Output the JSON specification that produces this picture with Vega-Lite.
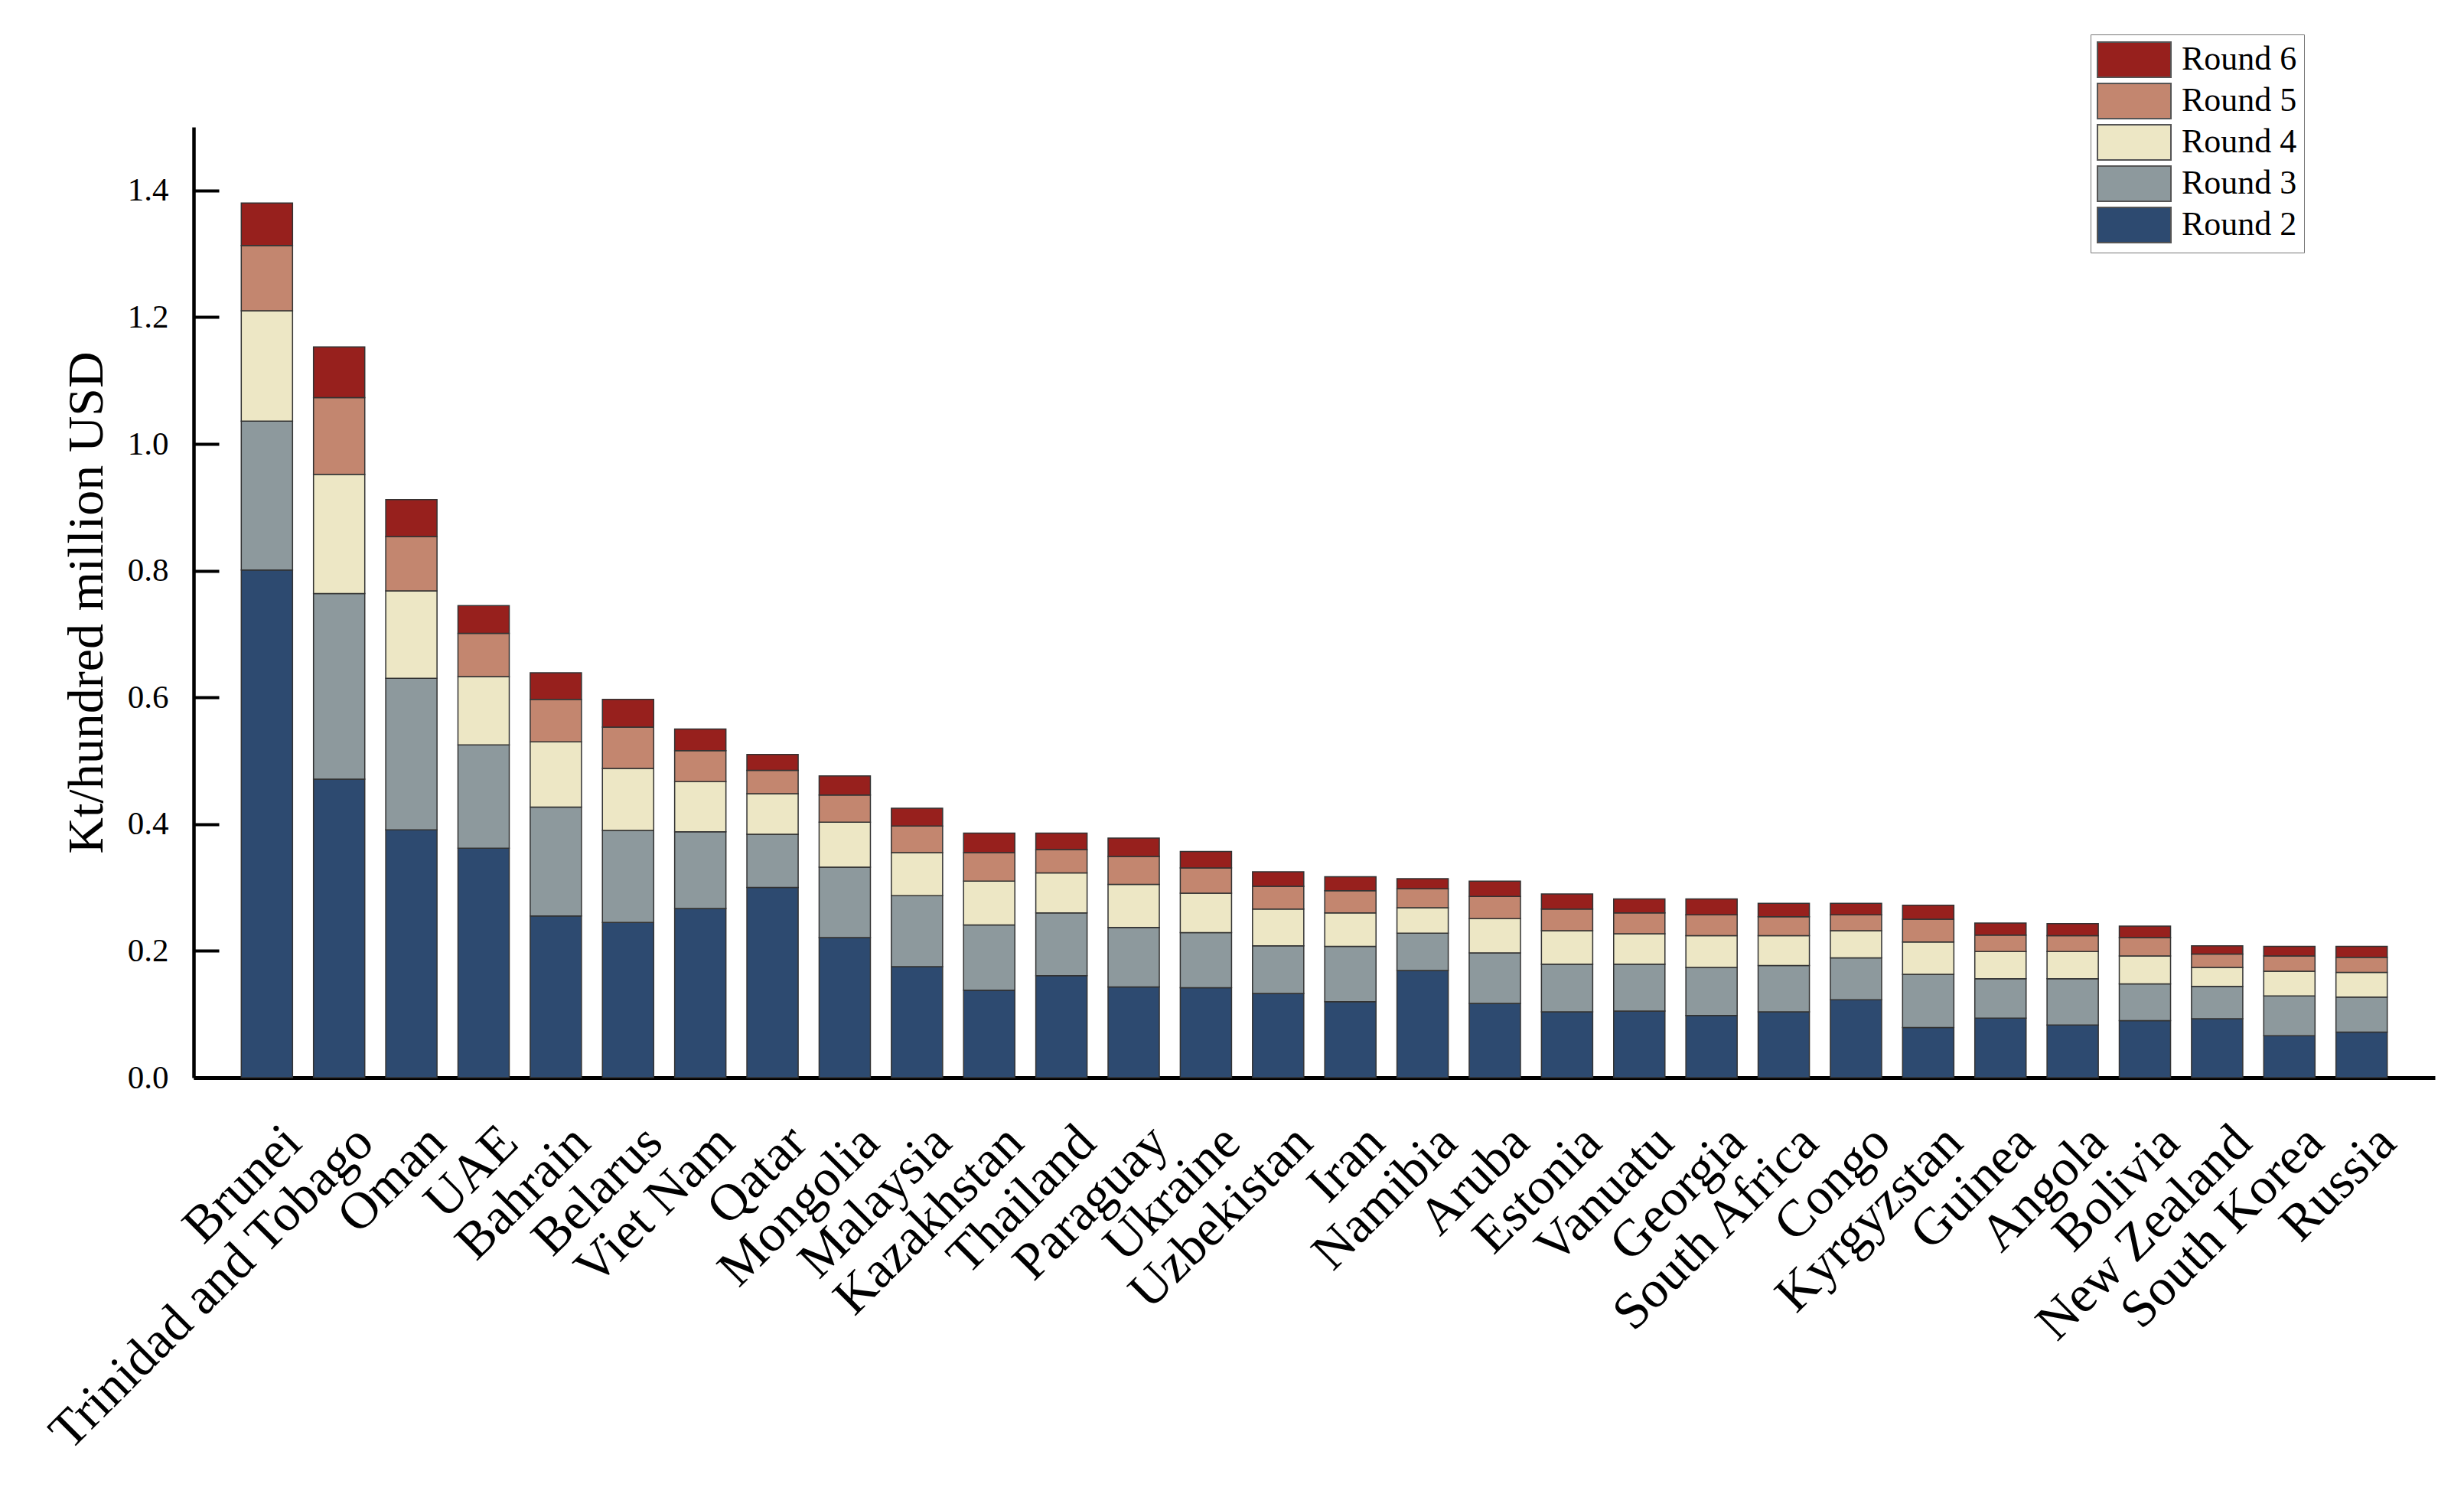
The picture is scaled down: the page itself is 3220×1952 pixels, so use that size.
{
  "$schema": "https://vega.github.io/schema/vega-lite/v6.json",
  "width": 2929,
  "height": 1242,
  "autosize": {"type": "none"},
  "padding": {"left": 253, "top": 166, "right": 38, "bottom": 544},
  "background": "white",
  "config": {"view": {"stroke": null}, "font": "Liberation Serif"},
  "data": {"values": [
    {"country": "Brunei", "r2": 0.801, "r3": 0.235, "r4": 0.174, "r5": 0.103, "r6": 0.067},
    {"country": "Trinidad and Tobago", "r2": 0.471, "r3": 0.293, "r4": 0.188, "r5": 0.121, "r6": 0.080},
    {"country": "Oman", "r2": 0.391, "r3": 0.239, "r4": 0.138, "r5": 0.086, "r6": 0.058},
    {"country": "UAE", "r2": 0.362, "r3": 0.163, "r4": 0.108, "r5": 0.068, "r6": 0.044},
    {"country": "Bahrain", "r2": 0.255, "r3": 0.172, "r4": 0.103, "r5": 0.067, "r6": 0.042},
    {"country": "Belarus", "r2": 0.245, "r3": 0.145, "r4": 0.098, "r5": 0.065, "r6": 0.044},
    {"country": "Viet Nam", "r2": 0.267, "r3": 0.121, "r4": 0.079, "r5": 0.049, "r6": 0.034},
    {"country": "Qatar", "r2": 0.300, "r3": 0.084, "r4": 0.064, "r5": 0.037, "r6": 0.025},
    {"country": "Mongolia", "r2": 0.221, "r3": 0.111, "r4": 0.071, "r5": 0.043, "r6": 0.030},
    {"country": "Malaysia", "r2": 0.175, "r3": 0.112, "r4": 0.068, "r5": 0.042, "r6": 0.028},
    {"country": "Kazakhstan", "r2": 0.138, "r3": 0.103, "r4": 0.069, "r5": 0.045, "r6": 0.031},
    {"country": "Thailand", "r2": 0.161, "r3": 0.099, "r4": 0.063, "r5": 0.037, "r6": 0.026},
    {"country": "Paraguay", "r2": 0.143, "r3": 0.094, "r4": 0.068, "r5": 0.044, "r6": 0.029},
    {"country": "Ukraine", "r2": 0.142, "r3": 0.087, "r4": 0.062, "r5": 0.040, "r6": 0.026},
    {"country": "Uzbekistan", "r2": 0.133, "r3": 0.075, "r4": 0.058, "r5": 0.036, "r6": 0.023},
    {"country": "Iran", "r2": 0.120, "r3": 0.087, "r4": 0.053, "r5": 0.035, "r6": 0.022},
    {"country": "Namibia", "r2": 0.169, "r3": 0.059, "r4": 0.040, "r5": 0.030, "r6": 0.016},
    {"country": "Aruba", "r2": 0.117, "r3": 0.080, "r4": 0.054, "r5": 0.035, "r6": 0.024},
    {"country": "Estonia", "r2": 0.104, "r3": 0.075, "r4": 0.053, "r5": 0.034, "r6": 0.024},
    {"country": "Vanuatu", "r2": 0.105, "r3": 0.074, "r4": 0.048, "r5": 0.033, "r6": 0.022},
    {"country": "Georgia", "r2": 0.098, "r3": 0.076, "r4": 0.050, "r5": 0.033, "r6": 0.025},
    {"country": "South Africa", "r2": 0.104, "r3": 0.073, "r4": 0.047, "r5": 0.030, "r6": 0.021},
    {"country": "Congo", "r2": 0.123, "r3": 0.066, "r4": 0.043, "r5": 0.025, "r6": 0.018},
    {"country": "Kyrgyzstan", "r2": 0.079, "r3": 0.084, "r4": 0.051, "r5": 0.036, "r6": 0.022},
    {"country": "Guinea", "r2": 0.094, "r3": 0.062, "r4": 0.043, "r5": 0.026, "r6": 0.019},
    {"country": "Angola", "r2": 0.083, "r3": 0.073, "r4": 0.043, "r5": 0.025, "r6": 0.019},
    {"country": "Bolivia", "r2": 0.090, "r3": 0.058, "r4": 0.044, "r5": 0.029, "r6": 0.018},
    {"country": "New Zealand", "r2": 0.093, "r3": 0.051, "r4": 0.030, "r5": 0.021, "r6": 0.013},
    {"country": "South Korea", "r2": 0.066, "r3": 0.063, "r4": 0.039, "r5": 0.024, "r6": 0.015},
    {"country": "Russia", "r2": 0.072, "r3": 0.055, "r4": 0.039, "r5": 0.024, "r6": 0.017}
  ]},
  "transform": [
    {"fold": ["r2", "r3", "r4", "r5", "r6"], "as": ["round", "value"]}
  ],
  "mark": {"type": "bar", "stroke": "#333333", "strokeWidth": 1.5},
  "encoding": {
    "x": {
      "field": "country", "type": "nominal", "sort": null,
      "scale": {"paddingInner": 0.29, "paddingOuter": 0.66},
      "axis": {
        "title": null, "labelAngle": -45, "labelAlign": "right", "labelBaseline": "top",
        "labelFontSize": 68, "labelFont": "Liberation Serif", "labelColor": "black",
        "labelPadding": 50, "labelOffset": 10, "labelLimit": 2000, "labelOverlap": false,
        "ticks": false, "domainColor": "black", "domainWidth": 5
      }
    },
    "y": {
      "field": "value", "type": "quantitative", "stack": "zero",
      "scale": {"domain": [0, 1.5], "nice": false},
      "axis": {
        "title": "Kt/hundred million USD",
        "values": [0, 0.2, 0.4, 0.6, 0.8, 1.0, 1.2, 1.4], "format": ".1f",
        "grid": false, "tickSize": -33, "tickWidth": 4, "tickColor": "black",
        "labelPadding": 66, "labelFontSize": 43, "labelFont": "Liberation Serif", "labelColor": "black",
        "domainColor": "black", "domainWidth": 4.5,
        "titleFontSize": 66, "titleFont": "Liberation Serif", "titleFontWeight": "normal", "titleColor": "black",
        "titleX": -140, "titleY": 621, "titleAngle": -90, "titleAlign": "center", "titleBaseline": "middle"
      }
    },
    "color": {
      "field": "round", "type": "nominal",
      "scale": {
        "domain": ["r6", "r5", "r4", "r3", "r2"],
        "range": ["#97201d", "#c3866f", "#ede7c5", "#8d999d", "#2d4a70"]
      },
      "legend": {
        "title": null, "orient": "none", "legendX": 2479, "legendY": -121,
        "labelExpr": "'Round ' + slice(datum.label, 1)",
        "symbolType": "M-2.087,-1H2.087V1H-2.087Z", "symbolSize": 2116,
        "symbolStrokeColor": "#555555", "symbolStrokeWidth": 2, "symbolOpacity": 1,
        "symbolOffset": 24,
        "labelFontSize": 44, "labelFont": "Liberation Serif", "labelColor": "black",
        "labelOffset": 38, "rowPadding": 0, "padding": 9,
        "strokeColor": "#777777"
      }
    },
    "order": {"field": "round", "sort": "ascending"}
  }
}
